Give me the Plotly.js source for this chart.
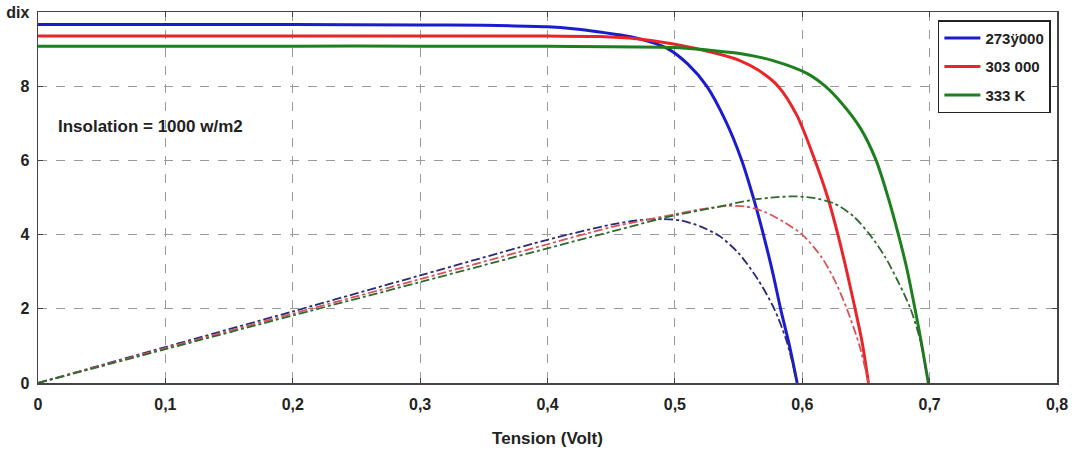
<!DOCTYPE html>
<html>
<head>
<meta charset="utf-8">
<script src="https://cdn.plot.ly/plotly-3.0.1.min.js"></script>
<style>html,body{margin:0;padding:0;background:#fff;}#chart{width:1072px;height:450px;}</style>
</head>
<body>
<div id="chart"></div>
<script>
// I-V curves (courant vs tension)
const vBlue = [0, 0.1, 0.2, 0.3, 0.35, 0.4, 0.42, 0.441, 0.467, 0.48, 0.494, 0.51, 0.525, 0.54, 0.5525, 0.562, 0.5695, 0.577, 0.583, 0.59, 0.596];
const iBlue = [9.66, 9.66, 9.66, 9.65, 9.64, 9.6, 9.55, 9.46, 9.32, 9.2, 9.02, 8.6, 8.0, 7.05, 6.0, 4.95, 4.0, 2.95, 2.0, 1.0, 0];
const vRed = [0, 0.1, 0.2, 0.3, 0.4, 0.441, 0.47, 0.499, 0.533, 0.551, 0.566, 0.581, 0.596, 0.61, 0.62, 0.628, 0.635, 0.6415, 0.647, 0.652];
const iRed = [9.35, 9.35, 9.35, 9.35, 9.35, 9.34, 9.28, 9.14, 8.88, 8.69, 8.42, 8.0, 7.2, 6.0, 5.0, 4.0, 3.0, 2.0, 1.1, 0];
const vGreen = [0, 0.1, 0.2, 0.3, 0.4, 0.5, 0.533, 0.551, 0.577, 0.604, 0.618, 0.632, 0.646, 0.658, 0.667, 0.6755, 0.682, 0.6885, 0.694, 0.699];
const iGreen = [9.08, 9.08, 9.08, 9.08, 9.075, 9.04, 8.95, 8.88, 8.69, 8.34, 8.0, 7.5, 6.85, 6.0, 5.05, 4.0, 3.1, 2.0, 1.0, 0];
// P-V curves (puissance vs tension)
const pvBlue = [0, 0.1, 0.2, 0.3, 0.4, 0.45, 0.47, 0.49, 0.505, 0.52, 0.535, 0.55, 0.565, 0.578, 0.588, 0.596];
const pBlue = [0, 0.97, 1.93, 2.9, 3.86, 4.27, 4.38, 4.42, 4.38, 4.22, 3.96, 3.5, 2.8, 2.0, 1.1, 0];
const pvRed = [0, 0.1, 0.2, 0.3, 0.4, 0.45, 0.5, 0.52, 0.54, 0.555, 0.57, 0.585, 0.6, 0.615, 0.625, 0.635, 0.645, 0.652];
const pRed = [0, 0.94, 1.87, 2.8, 3.74, 4.2, 4.55, 4.68, 4.77, 4.76, 4.62, 4.35, 4.0, 3.4, 2.8, 2.0, 1.0, 0];
const pvGreen = [0, 0.1, 0.2, 0.3, 0.4, 0.45, 0.5, 0.53, 0.56, 0.58, 0.596, 0.61, 0.625, 0.64, 0.653, 0.665, 0.675, 0.685, 0.693, 0.699];
const pGreen = [0, 0.91, 1.82, 2.72, 3.63, 4.08, 4.52, 4.72, 4.93, 5.01, 5.03, 4.98, 4.84, 4.5, 4.0, 3.4, 2.75, 2.0, 1.1, 0];

const seriesNames = ["273ÿ000", "303 000", "333 K"];
const xTickVals = [0, 0.1, 0.2, 0.3, 0.4, 0.5, 0.6, 0.7, 0.8];
const xTickText = ["0", "0,1", "0,2", "0,3", "0,4", "0,5", "0,6", "0,7", "0,8"];
const yTickVals = [0, 2, 4, 6, 8, 10];
const yTickText = ["0", "2", "4", "6", "8", "dix"];

const cBlue = "#1c1ccf", cRed = "#e8262a", cGreen = "#1d7f1d";
const fam = "Liberation Sans, Arial, sans-serif";
const sm = {shape: "spline", smoothing: 0.8};

const traces = [
  {x: vBlue, y: iBlue, name: seriesNames[0], legendgroup: "a", mode: "lines", line: Object.assign({color: cBlue, width: 3}, sm)},
  {x: vRed, y: iRed, name: seriesNames[1], legendgroup: "b", mode: "lines", line: Object.assign({color: cRed, width: 3}, sm)},
  {x: vGreen, y: iGreen, name: seriesNames[2], legendgroup: "c", mode: "lines", line: Object.assign({color: cGreen, width: 3}, sm)},
  {x: pvBlue, y: pBlue, mode: "lines", showlegend: false, line: Object.assign({color: "#2a2a7a", width: 1.8, dash: "dashdot"}, sm)},
  {x: pvRed, y: pRed, mode: "lines", showlegend: false, line: Object.assign({color: "#d9535a", width: 1.8, dash: "dashdot"}, sm)},
  {x: pvGreen, y: pGreen, mode: "lines", showlegend: false, line: Object.assign({color: "#2e6b2e", width: 1.8, dash: "dashdot"}, sm)}
];

const axisCommon = {
  showline: true, linecolor: "#444", linewidth: 1.5, mirror: "ticks",
  ticks: "inside", ticklen: 5, tickcolor: "#444", tickwidth: 1,
  showgrid: true, gridcolor: "#9a9a9a", griddash: "dash", gridwidth: 1,
  zeroline: false, tickfont: {family: fam, size: 16, color: "#222", weight: "bold"}
};

const layout = {
  width: 1072, height: 450,
  margin: {l: 38, r: 15, t: 12, b: 67},
  paper_bgcolor: "#fff", plot_bgcolor: "#fff",
  font: {family: fam, size: 16, color: "#222"},
  xaxis: Object.assign({}, axisCommon, {
    range: [0, 0.8], tickvals: xTickVals, ticktext: xTickText, ticklabelstandoff: 6,
    title: {text: "<b>Tension (Volt)</b>", font: {family: fam, size: 17, color: "#222"}, standoff: 20}
  }),
  yaxis: Object.assign({}, axisCommon, {
    range: [0, 10], tickvals: yTickVals, ticktext: yTickText, ticklabelstandoff: 4
  }),
  legend: {
    x: 0.994, y: 0.978, xanchor: "right", yanchor: "top",
    bgcolor: "#fff", bordercolor: "#222", borderwidth: 1.5,
    font: {family: fam, size: 15, color: "#222", weight: "bold"},
    itemwidth: 36, tracegroupgap: 6
  },
  annotations: [{
    x: 0.014, y: 6.92, xref: "x", yref: "y", xanchor: "left", yanchor: "middle",
    text: "<b>Insolation = 1000 w/m2</b>", showarrow: false,
    font: {family: fam, size: 17, color: "#222"}
  }]
};

Plotly.newPlot("chart", traces, layout, {displayModeBar: false, staticPlot: true});
</script>
</body>
</html>
